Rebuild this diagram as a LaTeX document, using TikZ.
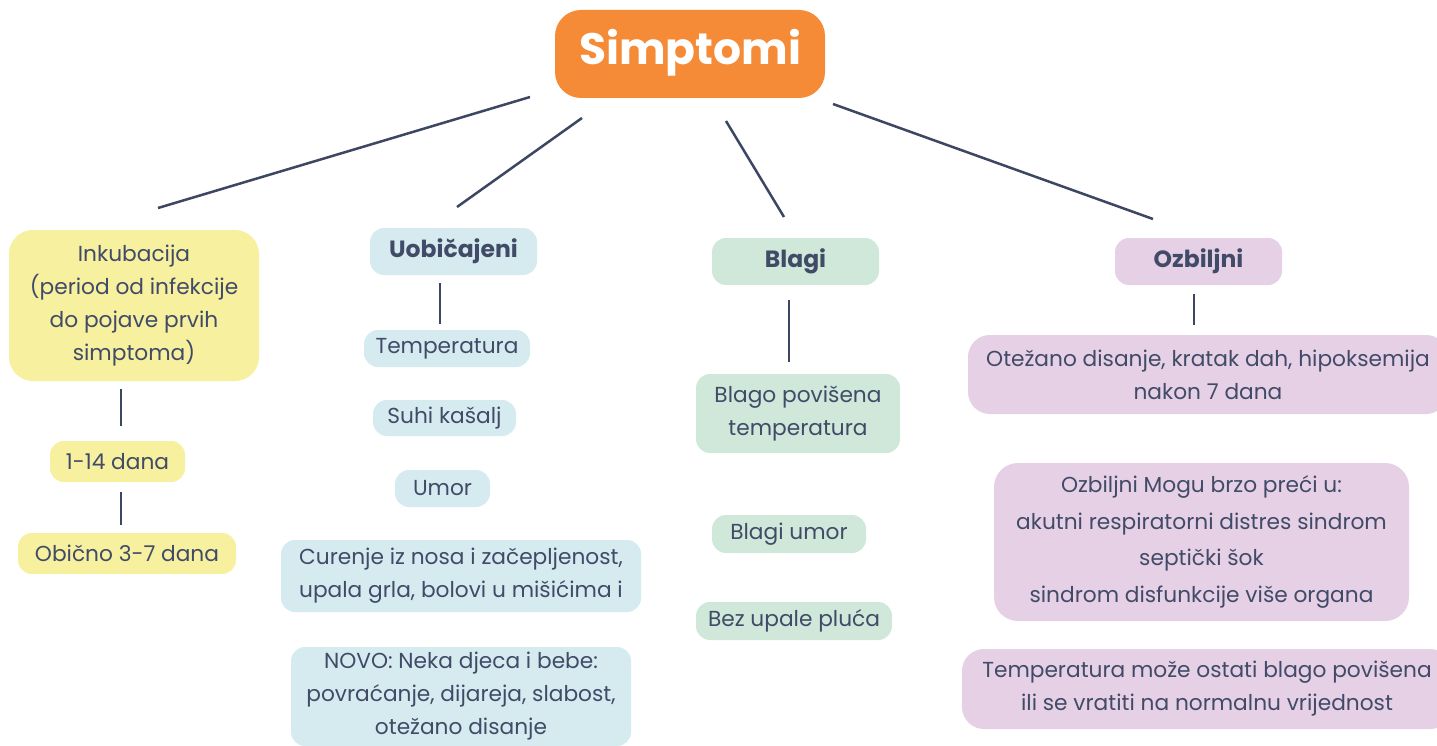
\documentclass[tikz,border=0pt]{standalone}
\usepackage{fontspec}
\setmainfont{Poppins}
\definecolor{txt}{HTML}{414B68}
\definecolor{lin}{HTML}{3D4663}
\definecolor{org}{HTML}{F58A37}
\definecolor{yel}{HTML}{F6F09F}
\definecolor{blu}{HTML}{D5EBF0}
\definecolor{grn}{HTML}{CFE8D9}
\definecolor{pur}{HTML}{E6D0E5}
\tikzset{
  box/.style={rounded corners=14pt, inner sep=0pt, align=center, text=txt,
    font=\fontsize{21.7}{33}\selectfont},
  head/.style={box, font=\fontsize{23.5}{27}\selectfont\bfseries},
  conn/.style={draw=lin, line width=2.5pt}
}
\begin{document}
\begin{tikzpicture}[x=1pt,y=-1pt]
\useasboundingbox (0,0) rectangle (1437,746);
\fill[white] (0,0) rectangle (1437,746);
% title
\node[box, rounded corners=26pt, fill=org, minimum width=270, minimum height=88, text=white,
  font=\fontsize{44}{50}\selectfont\bfseries] (title) at (690,54) {\raisebox{-11pt}[0pt][0pt]{Simptomi}};
% connectors from title
\coordinate (t1) at (530,97);  \coordinate (e1) at (158,208);
\coordinate (t2) at (582,118); \coordinate (e2) at (457,207);
\coordinate (t3) at (726,121); \coordinate (e3) at (784,217);
\coordinate (t4) at (833,104); \coordinate (e4) at (1153,219);
\draw[conn] (t1) -- (e1);
\draw[conn] (t2) -- (e2);
\draw[conn] (t3) -- (e3);
\draw[conn] (t4) -- (e4);
% Inkubacija
\node[box, rounded corners=24pt, fill=yel, minimum width=250, minimum height=151] (ink) at (134,305.5)
  {Inkubacija\\(period od infekcije\\do pojave prvih\\simptoma)};
\node[box, fill=yel, minimum width=135, minimum height=41] (d114) at (117.5,461.5) {1-14 dana};
\node[box, fill=yel, minimum width=218, minimum height=41] (d37) at (127,553.5) {Obično 3-7 dana};
\coordinate (i1) at (121,389); \coordinate (i2) at (121,426);
\coordinate (i3) at (121,492); \coordinate (i4) at (121,525);
\draw[conn] (i1) -- (i2);
\draw[conn] (i3) -- (i4);
% Uobicajeni
\node[head, fill=blu, minimum width=167, minimum height=47] (uob) at (453.5,251.5) {Uobičajeni};
\coordinate (u1) at (440,283); \coordinate (u2) at (440,324);
\draw[conn] (u1) -- (u2);
\node[box, fill=blu, minimum width=166, minimum height=37] (temp) at (447,348.5) {Temperatura};
\node[box, fill=blu, minimum width=143, minimum height=36] (suhi) at (444.5,418) {Suhi kašalj};
\node[box, fill=blu, minimum width=95, minimum height=37] (umor) at (442.5,488.5) {Umor};
\node[box, fill=blu, minimum width=360, minimum height=72] (cur) at (461,576)
  {Curenje iz nosa i začepljenost,\\upala grla, bolovi u mišićima i};
\node[box, fill=blu, minimum width=340, minimum height=99] (novo) at (461,696.5)
  {NOVO: Neka djeca i bebe:\\povraćanje, dijareja, slabost,\\otežano disanje};
% Blagi
\node[head, fill=grn, minimum width=167, minimum height=47] (blagi) at (795.5,261.5) {Blagi};
\coordinate (b1) at (789,300); \coordinate (b2) at (789,362);
\draw[conn] (b1) -- (b2);
\node[box, fill=grn, minimum width=204, minimum height=79] (bpt) at (798,413.5)
  {Blago povišena\\temperatura};
\node[box, fill=grn, minimum width=154, minimum height=38] (bum) at (789,534) {Blagi umor};
\node[box, fill=grn, minimum width=196, minimum height=38] (bez) at (794,621) {Bez upale pluća};
% Ozbiljni
\node[head, fill=pur, minimum width=167, minimum height=47] (ozb) at (1198.5,261.5) {Ozbiljni};
\coordinate (o1) at (1194,294); \coordinate (o2) at (1194,325);
\draw[conn] (o1) -- (o2);
\node[box, rounded corners=22pt, fill=pur, minimum width=480, minimum height=79] (ote) at (1208,374.5)
  {Otežano disanje, kratak dah, hipoksemija\\nakon 7 dana};
\node[box, rounded corners=24pt, fill=pur, minimum width=415, minimum height=158, font=\fontsize{21.7}{36.7}\selectfont] (mog) at (1201.5,542)
  {Ozbiljni Mogu brzo preći u:\\akutni respiratorni distres sindrom\\septički šok\\sindrom disfunkcije više organa};
\node[box, rounded corners=22pt, fill=pur, minimum width=490, minimum height=80] (tmo) at (1207,689)
  {Temperatura može ostati blago povišena\\ili se vratiti na normalnu vrijednost};
\end{tikzpicture}
\end{document}
